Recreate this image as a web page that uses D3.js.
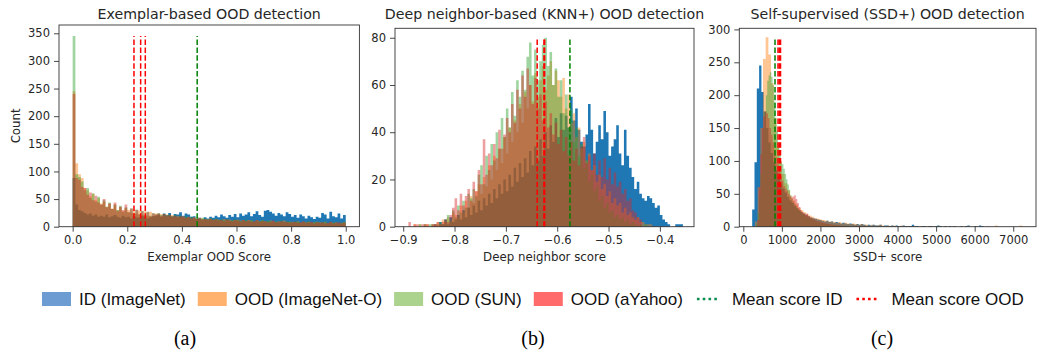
<!DOCTYPE html>
<html><head><meta charset="utf-8">
<script src="https://cdn.jsdelivr.net/npm/d3@7/dist/d3.min.js"></script>
<style>
html,body{margin:0;padding:0;background:#fff;}
svg{display:block;}
</style></head><body>
<svg id="chart" width="1038" height="354"></svg>
<script>
// ---------------- DATA ----------------
const seriesNames = ["ID (ImageNet)", "OOD (ImageNet-O)", "OOD (SUN)", "OOD (aYahoo)"];
const meanNames = ["Mean score ID", "Mean score OOD"];
const panelTitles = ["Exemplar-based OOD detection", "Deep neighbor-based (KNN+) OOD detection", "Self-supervised (SSD+) OOD detection"];
const panelXLabels = ["Exemplar OOD Score", "Deep neighbor score", "SSD+ score"];
const panelYLabels = ["Count", "", ""];
const panelTags = ["(a)", "(b)", "(c)"];

// Panel (a): histogram bins (start, width) per series, then counts
const aBinStart = [0, 0, 0, 0];
const aBinWidth = [0.01, 0.01, 0.01, 0.01];
const aID = [88,40,30,28,25,22,24,20,22,18,
 20,18,22,17,19,21,18,16,20,17,
 18,15,19,17,16,20,18,15,17,19,
 20,22,18,24,21,25,19,23,22,26,
 20,24,22,18,19,14,16,13,17,15,
 18,16,20,17,22,19,16,21,18,23,
 17,24,20,22,26,19,23,28,21,18,
 29,30,27,24,20,25,22,19,26,23,
 18,21,16,22,19,15,20,17,14,18,
 16,25,22,15,27,19,17,24,15,21];
const aImageNetO = [245,115,95,88,70,66,55,60,48,52,
 42,45,36,42,33,40,30,35,28,34,
 30,25,31,24,29,22,28,20,27,19,
 24,21,23,20,22,19,21,18,20,17,
 19,16,18,15,17,14,16,15,13,14,
 15,12,14,13,11,14,12,13,11,12,
 13,11,12,10,12,11,9,12,10,11,
 10,9,11,10,8,10,9,11,8,9,
 9,8,10,7,9,8,9,7,8,9,
 8,7,9,6,8,7,8,6,7,8];
const aSUN = [345,95,90,82,66,70,52,60,45,54,
 40,48,36,44,32,40,30,38,27,35,
 26,33,24,31,22,29,21,27,20,25,
 22,25,21,23,20,22,19,21,18,20,
 17,19,16,18,15,17,14,16,15,13,
 15,13,14,12,13,11,14,12,11,13,
 12,10,11,13,10,12,9,11,10,12,
 9,11,10,8,10,9,11,8,10,9,
 8,10,9,7,9,8,10,7,8,9,
 7,8,9,6,8,7,8,6,7,9];
const aYahoo = [240,88,85,72,70,58,62,48,56,44,
 40,50,35,42,32,44,28,36,30,40,
 26,33,24,30,22,28,20,26,19,24,
 22,24,20,23,19,21,18,20,17,19,
 18,16,17,15,16,14,15,13,14,12,
 14,12,13,11,12,10,13,11,10,12,
 11,9,12,10,11,9,10,12,9,10,
 10,8,9,11,8,9,10,8,9,7,
 8,9,7,8,10,7,8,9,6,8,
 7,8,6,7,9,6,7,8,6,7];
const aMeanID = [0.456];
const aMeanOOD = [0.2245, 0.249, 0.266];

// Panel (b)
const bBinStart = [-0.84, -0.88, -0.87, -0.89];
const bBinWidth = [0.005, 0.005, 0.005, 0.005];
const bID = [1,0,2,1,3,1,4,2,3,5,
 3,7,4,8,5,9,6,11,7,12,
 9,14,10,16,12,18,14,20,15,22,
 17,25,19,27,21,29,23,32,26,34,
 28,37,30,40,33,43,36,46,38,48,
 41,47,42,55,45,50,41,36,34,39,
 52,41,31,36,43,37,49,40,30,34,
 37,43,31,26,41,30,25,21,16,19,
 14,12,11,13,12,10,8,9,5,3,
 2,1,0,0,1,1,1];
const bImageNetO = [1,0,1,0,1,1,0,1,1,2,
 1,3,2,4,2,6,5,4,9,6,
 11,8,13,10,15,18,14,21,17,26,
 20,30,24,33,27,38,31,42,36,45,
 40,52,44,57,50,60,53,65,55,62,
 68,58,64,70,60,66,62,55,63,50,
 56,44,48,38,42,33,36,28,31,24,
 26,19,22,16,18,13,15,10,12,9,
 10,6,8,5,6,4,3,4,2,2,
 1,1,1];
const bSUN = [1,0,1,0,1,1,0,1,2,1,
 3,5,3,7,4,9,6,11,8,14,
 12,16,13,22,26,18,30,24,35,28,
 40,33,46,38,50,42,57,47,62,55,
 66,58,72,78,64,75,62,70,77,80,
 68,74,60,67,55,62,48,56,42,50,
 36,42,30,35,25,28,19,22,15,17,
 11,13,8,10,6,7,4,5,3,4,
 2,3,1,2,1,0,1,0,1];
const bYahoo = [2,0,1,1,0,1,1,1,0,1,
 1,2,1,2,3,2,5,8,12,7,
 14,9,13,16,11,19,15,24,18,37,
 22,31,26,35,29,41,33,39,46,40,
 52,44,58,50,64,55,67,60,52,63,
 50,56,45,53,42,48,39,44,35,41,
 32,38,30,36,28,33,26,34,38,27,
 30,24,31,22,28,21,29,20,25,18,
 23,17,19,14,16,11,12,7,6,4,
 3];
const bMeanID = [-0.5752];
const bMeanOOD = [-0.639, -0.6258, -0.6245];

// Panel (c)
const cBinStart = [230, 300, 340, 360];
const cBinWidth = [60, 70, 35, 40];
const cID = [26,98,210,245,205,175,150,128,112,98,
 86,76,66,58,52,45,40,36,32,28,
 25,22,20,18,16,14,13,12,11,10,
 9,8,9,7,8,6,7,6,5,6,
 5,4,5,4,3,4,3,4,3,2,
 3,2,3,2,2,3,1,2,2,1,
 2,1,2,1,1,2,1,1,1,3,
 1,1,0,1,1,0,1,1,0,1,
 2,1,0,1,0,1,0,1,0,0,
 1,0,1,2,0,0,1,0,2,1];
const cImageNetO = [8,60,150,255,288,262,218,165,128,100,
 80,66,55,46,40,34,29,25,22,19,
 17,15,13,12,11,10,9,8,8,7,
 6,7,5,6,5,4,5,4,3,4,
 3,3,2,3,2,2,3,2,1,2,
 1,2,1,1,2,1,1,0,1,1,
 0,1,0,1,1,0,1,0,1,0,
 1,0,0,1,0,0,1,0,0,1,
 0,0,1,0,0,0,1,0,0,2,
 0,0,0,0,0,0,0,0,2,0];
const cSUN = [5,20,45,80,115,150,175,200,222,230,
 235,228,215,190,165,145,125,110,98,95,
 88,80,72,64,56,48,42,38,35,32,
 29,26,24,22,20,18,16,15,14,13,
 12,11,10,9,8,8,7,6,6,5,
 5,4,4,4,3,3,3,2,3,2,
 2,2,1,2,1,1,1,1,0,1,
 1,0,1,0,1,0,0,1];
const cYahoo = [10,60,110,150,168,175,172,165,150,140,
 128,115,105,95,85,78,70,62,58,55,
 50,47,44,46,48,42,36,30,25,22,
 20,18,20,16,14,13,11,10,9,8,
 8,7,6,6,5,5,4,4,3,3,
 3,2,3,2,2,1,2,1,1,1,
 0,1,1,0,1,0,1,0,0,1];
const cMeanID = [822];
const cMeanOOD = [900, 935, 965];

// Tick values and labels
const aXTicks = [0, 0.2, 0.4, 0.6, 0.8, 1.0];
const aXTickLabels = ["0.0", "0.2", "0.4", "0.6", "0.8", "1.0"];
const aYTicks = [0, 50, 100, 150, 200, 250, 300, 350];
const bXTicks = [-0.9, -0.8, -0.7, -0.6, -0.5, -0.4];
const bXTickLabels = ["\u22120.9", "\u22120.8", "\u22120.7", "\u22120.6", "\u22120.5", "\u22120.4"];
const bYTicks = [0, 20, 40, 60, 80];
const cXTicks = [0, 1000, 2000, 3000, 4000, 5000, 6000, 7000];
const cXTickLabels = ["0", "1000", "2000", "3000", "4000", "5000", "6000", "7000"];
const cYTicks = [0, 50, 100, 150, 200, 250, 300];

// ---------------- STYLE / LAYOUT ----------------
const histColors = ["#1f77b4", "#ff7f0e", "#2ca02c", "#d62728"];
const histOpacity = [1, 0.45, 0.45, 0.45];
const legendColors = ["#6c9cd2", "#ffb26e", "#abd38e", "#ff6b6b"];
const meanColors = ["#008000", "#ff0000"];
const legendDotColors = ["#0e8c50", "#ff0000"];

const panels = [
  {left: 59, right: 359.4, top: 25, bottom: 226.7, xDomain: [-0.05, 1.05], yDomain: [0, 365],
   starts: aBinStart, widths: aBinWidth, series: [aID, aImageNetO, aSUN, aYahoo],
   meanID: aMeanID, meanOOD: aMeanOOD, xTicks: aXTicks, xLabels: aXTickLabels, yTicks: aYTicks},
  {left: 395, right: 694, top: 28.3, bottom: 226.7, xDomain: [-0.916, -0.3335], yDomain: [0, 84],
   starts: bBinStart, widths: bBinWidth, series: [bID, bImageNetO, bSUN, bYahoo],
   meanID: bMeanID, meanOOD: bMeanOOD, xTicks: bXTicks, xLabels: bXTickLabels, yTicks: bYTicks},
  {left: 739.3, right: 1036, top: 28.3, bottom: 226.7, xDomain: [-104, 7590], yDomain: [0, 301.7],
   starts: cBinStart, widths: cBinWidth, series: [cID, cImageNetO, cSUN, cYahoo],
   meanID: cMeanID, meanOOD: cMeanOOD, xTicks: cXTicks, xLabels: cXTickLabels, yTicks: cYTicks}
];

const svg = d3.select("#chart");
const FONT = "'DejaVu Sans', sans-serif";
const textCol = "#262626";

panels.forEach((p, pi) => {
  const x = d3.scaleLinear().domain(p.xDomain).range([p.left, p.right]);
  const y = d3.scaleLinear().domain(p.yDomain).range([p.bottom, p.top]);
  const g = svg.append("g");

  // histograms as step areas
  p.series.forEach((counts, si) => {
    const s = p.starts[si], w = p.widths[si];
    const pts = counts.map((v, i) => ({x: s + i * w, y: v}));
    pts.push({x: s + counts.length * w, y: counts[counts.length - 1]});
    const area = d3.area().x(d => x(d.x)).y0(y(0)).y1(d => y(d.y)).curve(d3.curveStepAfter);
    g.append("path").attr("d", area(pts))
      .attr("fill", histColors[si]).attr("fill-opacity", histOpacity[si]).attr("stroke", "none");
  });

  // mean lines
  const topVal = d3.max(p.series, s => d3.max(s));
  const drawMean = (vals, col) => vals.forEach(v => {
    g.append("line").attr("x1", x(v)).attr("x2", x(v)).attr("y1", y(0)).attr("y2", y(topVal))
      .attr("stroke", col).attr("stroke-width", 1.5).attr("stroke-dasharray", "5.5,2.4");
  });
  drawMean(p.meanOOD, meanColors[1]);
  drawMean(p.meanID, meanColors[0]);

  // axes
  const xa = g.append("g").attr("transform", `translate(0,${p.bottom})`)
    .call(d3.axisBottom(x).tickValues(p.xTicks).tickFormat((d, i) => p.xLabels[i]).tickSizeInner(5).tickSizeOuter(0).tickPadding(4));
  const ya = g.append("g").attr("transform", `translate(${p.left},0)`)
    .call(d3.axisLeft(y).tickValues(p.yTicks).tickFormat(d => String(d)).tickSizeInner(5).tickSizeOuter(0).tickPadding(4));
  [xa, ya].forEach(a => {
    a.select(".domain").remove();
    a.selectAll(".tick line").attr("stroke", "#333").attr("stroke-width", 0.9);
    a.selectAll(".tick text").attr("fill", textCol).style("font-family", FONT).style("font-size", "11.5px");
  });

  // frame
  g.append("rect").attr("x", p.left).attr("y", p.top).attr("width", p.right - p.left).attr("height", p.bottom - p.top)
    .attr("fill", "none").attr("stroke", "#333").attr("stroke-width", 0.9);

  const cx = (p.left + p.right) / 2;
  g.append("text").attr("x", cx).attr("y", 18.5).attr("text-anchor", "middle")
    .style("font-family", FONT).style("font-size", "14.2px").attr("fill", textCol).text(panelTitles[pi]);
  g.append("text").attr("x", cx).attr("y", 261).attr("text-anchor", "middle")
    .style("font-family", FONT).style("font-size", "11.8px").attr("fill", textCol).text(panelXLabels[pi]);
  if (panelYLabels[pi]) {
    g.append("text").attr("transform", `translate(20,${(p.top + p.bottom) / 2}) rotate(-90)`)
      .attr("text-anchor", "middle").style("font-family", FONT).style("font-size", "11.8px")
      .attr("fill", textCol).text(panelYLabels[pi]);
  }
  svg.append("text").attr("x", [185, 533, 882][pi]).attr("y", 345).attr("text-anchor", "middle")
    .style("font-family", "'Liberation Serif', 'Times New Roman', serif").style("font-size", "20px")
    .attr("fill", "#000").text(panelTags[pi]);
});

// legend
const legendItems = seriesNames.map((n, i) => ({name: n, type: "patch", color: legendColors[i]}))
  .concat(meanNames.map((n, i) => ({name: n, type: "dots", color: legendDotColors[i]})));
const lg = svg.append("g");
let lx = 42;
const ly = 292;
legendItems.forEach(it => {
  if (it.type === "patch") {
    lg.append("rect").attr("x", lx).attr("y", ly).attr("width", 29).attr("height", 14).attr("fill", it.color);
  } else {
    lg.append("line").attr("x1", lx + 2).attr("x2", lx + 24).attr("y1", ly + 7).attr("y2", ly + 7)
      .attr("stroke", it.color).attr("stroke-width", 2.6).attr("stroke-dasharray", "2.6,3.2");
  }
  const t = lg.append("text").attr("x", lx + 37).attr("y", ly + 13)
    .style("font-family", "'Liberation Sans', Arial, sans-serif").style("font-size", "17px")
    .attr("fill", "#111").text(it.name);
  const w = t.node().getComputedTextLength();
  lx += 37 + w + 12;
});
</script>
</body></html>
